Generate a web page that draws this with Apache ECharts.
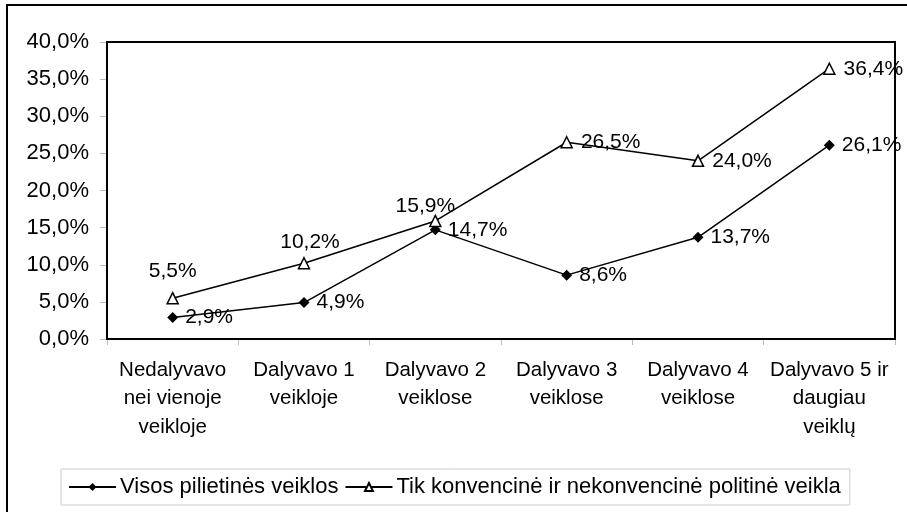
<!DOCTYPE html>
<html>
<head>
<meta charset="utf-8">
<script src="https://cdn.jsdelivr.net/npm/echarts@6/dist/echarts.min.js"></script>
<style>
  html, body { margin: 0; padding: 0; background: #fff; }
  #chart { width: 907px; height: 512px; }
</style>
</head>
<body>
<div id="chart"></div>
<script>
// kategorijos ir duomenys
const categories = [
  'Nedalyvavo\nnei vienoje\nveikloje',
  'Dalyvavo 1\nveikloje',
  'Dalyvavo 2\nveiklose',
  'Dalyvavo 3\nveiklose',
  'Dalyvavo 4\nveiklose',
  'Dalyvavo 5 ir\ndaugiau\nveiklų'
];
const visosValues = [2.9, 4.9, 14.7, 8.6, 13.7, 26.1];
const tikValues = [5.5, 10.2, 15.9, 26.5, 24.0, 36.4];
// kur rodyti "Tik..." eilutės etiketes
const tikLabelPos = ['top', 'top', 'top', 'right', 'right', 'right'];
const tikLabelDist = [10, 4, -2, 8, 8, 8];
const tikLabelShift = [0, 6, -10, 0, 0, 0];

const fmt = v => v.toFixed(1).replace('.', ',') + '%';
const font = 'Arial, "Liberation Sans", sans-serif';

const chart = echarts.init(document.getElementById('chart'));

const option = {
  animation: false,
  textStyle: { fontFamily: font },
  grid: { left: 107, right: 12, top: 42, bottom: 173 },
  graphic: [{
    type: 'rect',
    shape: { x: 7, y: 5, width: 920, height: 530 },
    style: { fill: 'none', stroke: '#000', lineWidth: 2 },
    silent: true
  }, {
    type: 'rect',
    shape: { x: 107, y: 42, width: 788, height: 297 },
    style: { fill: 'none', stroke: '#000', lineWidth: 2 },
    silent: true,
    z: 10
  }],
  legend: {
    left: 61,
    top: 469,
    width: 820,
    padding: [7, 9, 7, 7],
    borderColor: '#ccc',
    borderWidth: 1,
    itemWidth: 47,
    itemHeight: 10,
    itemGap: 6,
    textStyle: { fontSize: 22, color: '#000', fontFamily: font, padding: [0, 0, 0, -1] },
    data: ['Visos pilietinės veiklos', 'Tik konvencinė ir nekonvencinė politinė veikla']
  },
  xAxis: {
    type: 'category',
    data: categories,
    boundaryGap: true,
    axisLine: { show: true, lineStyle: { color: '#000', width: 2 } },
    axisTick: { show: true, length: 6, lineStyle: { color: '#bbb' } },
    axisLabel: { color: '#000', fontSize: 20.5, lineHeight: 28.5, margin: 17, interval: 0 }
  },
  yAxis: {
    type: 'value',
    min: 0,
    max: 40,
    interval: 5,
    axisLine: { show: true, lineStyle: { color: '#000', width: 2 } },
    axisTick: { show: true, length: 7, lineStyle: { color: '#bbb' } },
    splitLine: { show: false },
    axisLabel: { color: '#000', fontSize: 22, margin: 18, formatter: v => fmt(v) }
  },
  series: [{
    name: 'Visos pilietinės veiklos',
    type: 'line',
    data: visosValues,
    symbol: 'diamond',
    symbolSize: 11,
    itemStyle: { color: '#000' },
    lineStyle: { color: '#000', width: 1.5 },
    label: {
      show: true,
      position: 'right',
      distance: 7,
      fontSize: 21,
      color: '#000',
      formatter: p => fmt(p.value)
    }
  }, {
    name: 'Tik konvencinė ir nekonvencinė politinė veikla',
    type: 'line',
    data: tikValues.map((v, i) => ({
      value: v,
      label: { position: tikLabelPos[i], distance: tikLabelDist[i], offset: [tikLabelShift[i], 0] }
    })),
    symbol: 'triangle',
    symbolSize: 11,
    itemStyle: { color: '#fff', borderColor: '#000', borderWidth: 1.5 },
    lineStyle: { color: '#000', width: 1.5 },
    label: {
      show: true,
      fontSize: 21,
      color: '#000',
      formatter: p => fmt(p.value)
    }
  }]
};

option && chart.setOption(option);
</script>
</body>
</html>
